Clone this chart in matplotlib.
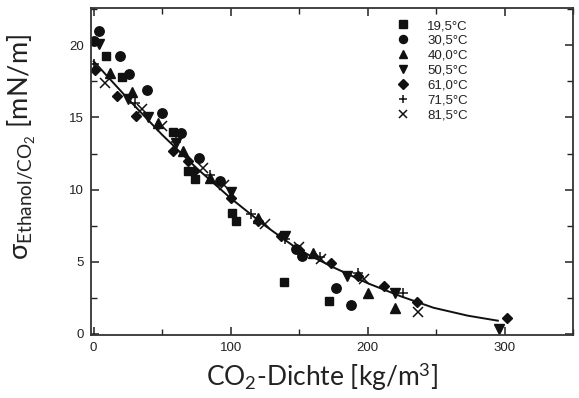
import matplotlib
matplotlib.use("Agg")
import matplotlib.pyplot as plt
from matplotlib.ticker import MultipleLocator

# ---- data ----
labels = ["19,5°C", "30,5°C", "40,0°C", "50,5°C", "61,0°C", "71,5°C", "81,5°C"]
markers = ["s", "o", "^", "v", "D", "+", "x"]

x_195 = [9, 21, 58, 69, 74, 101, 104, 139, 172]
y_195 = [19.3, 17.8, 14.0, 11.3, 10.7, 8.4, 7.8, 3.6, 2.3]

x_305 = [0, 4, 19, 26, 39, 50, 64, 77, 92, 148, 152, 177, 188]
y_305 = [20.3, 21.0, 19.3, 18.0, 16.9, 15.3, 13.9, 12.2, 10.6, 5.9, 5.4, 3.2, 2.0]

x_400 = [12, 28, 47, 65, 85, 120, 160, 200, 220]
y_400 = [18.1, 16.8, 14.6, 12.7, 10.8, 8.0, 5.6, 2.8, 1.8]

x_505 = [4, 25, 40, 60, 100, 140, 185, 220, 296]
y_505 = [20.1, 16.3, 15.0, 13.2, 9.8, 6.8, 4.0, 2.8, 0.3]

x_610 = [1, 17, 31, 58, 69, 73, 100, 120, 137, 150, 173, 193, 212, 236, 302]
y_610 = [18.3, 16.5, 15.1, 12.7, 12.0, 11.3, 9.4, 7.8, 6.8, 5.8, 4.9, 4.0, 3.3, 2.2, 1.1]

x_715 = [0, 30, 60, 85, 115, 140, 165, 193, 226]
y_715 = [18.7, 16.0, 13.3, 11.0, 8.3, 6.6, 5.3, 4.2, 2.85]

x_815 = [8, 35, 50, 80, 95, 125, 150, 166, 197, 237]
y_815 = [17.4, 15.6, 14.4, 11.5, 10.3, 7.6, 6.0, 5.2, 3.8, 1.5]

series_x = [x_195, x_305, x_400, x_505, x_610, x_715, x_815]
series_y = [y_195, y_305, y_400, y_505, y_610, y_715, y_815]

# fitted curve
curve_x = [0, 25, 50, 75, 100, 125, 150, 175, 200, 224, 248, 273, 295]
curve_y = [18.9, 16.3, 13.8, 11.5, 9.4, 7.5, 5.8, 4.6, 3.5, 2.6, 1.8, 1.25, 0.9]

xticks = [0, 100, 200, 300]
yticks = [0, 5, 10, 15, 20]

# ---- figure ----
plt.rcParams["mathtext.fontset"] = "custom"
plt.rcParams["mathtext.rm"] = "Lato"
plt.rcParams["mathtext.it"] = "Lato:italic"

fig = plt.figure(figsize=(5.79, 3.98), dpi=100)
ax = fig.add_axes([0.157, 0.158, 0.833, 0.822])

ink = "#111111"
for xs, ys, m, lab in zip(series_x, series_y, markers, labels):
    if m in ("+", "x"):
        ax.plot(xs, ys, linestyle="none", marker=m, markersize=7, mew=1.1,
                color=ink, label=lab)
    else:
        ms = 6.3 if m == "s" else 6.8
        if m == "D":
            ms = 5.5
        ax.plot(xs, ys, linestyle="none", marker=m, markersize=ms,
                color=ink, mec=ink, label=lab)

ax.plot(curve_x, curve_y, color=ink, linewidth=1.4, zorder=1)

ax.set_xlim(-2, 350)
ax.set_ylim(-0.1, 22.6)
ax.set_xticks(xticks)
ax.set_yticks(yticks)
ax.xaxis.set_minor_locator(MultipleLocator(50))
ax.yaxis.set_minor_locator(MultipleLocator(2.5))
ax.tick_params(which="both", direction="in", top=True, right=True,
               colors="#222222", labelcolor="#222222")
ax.tick_params(which="major", length=6, width=1.1, labelsize=9.5, pad=5)
ax.tick_params(which="minor", length=4, width=1.0)
for lbl in ax.get_xticklabels() + ax.get_yticklabels():
    lbl.set_fontfamily("Liberation Sans")
for sp in ax.spines.values():
    sp.set_linewidth(1.3)
    sp.set_color("#333333")

ax.set_xlabel(r"CO$_2$-Dichte [kg/m$^3$]", fontfamily="Lato", fontsize=19,
              color="#222222")
ax.xaxis.set_label_coords(0.479, -0.08)
ax.set_ylabel(r"$\mathregular{σ_{Ethanol/CO_2}}$ [mN/m]", fontfamily="Lato",
              fontsize=19.5, color="#222222")
ax.yaxis.set_label_coords(-0.11, 0.575)

leg = ax.legend(loc="upper left", bbox_to_anchor=(0.607, 1.0), frameon=False,
                prop={"family": "Liberation Sans", "size": 9.5},
                labelspacing=0.2, handletextpad=1.2, markerscale=0.85,
                handlelength=1.2)
for t in leg.get_texts():
    t.set_color("#222222")

fig.savefig("out.png", dpi=100)
